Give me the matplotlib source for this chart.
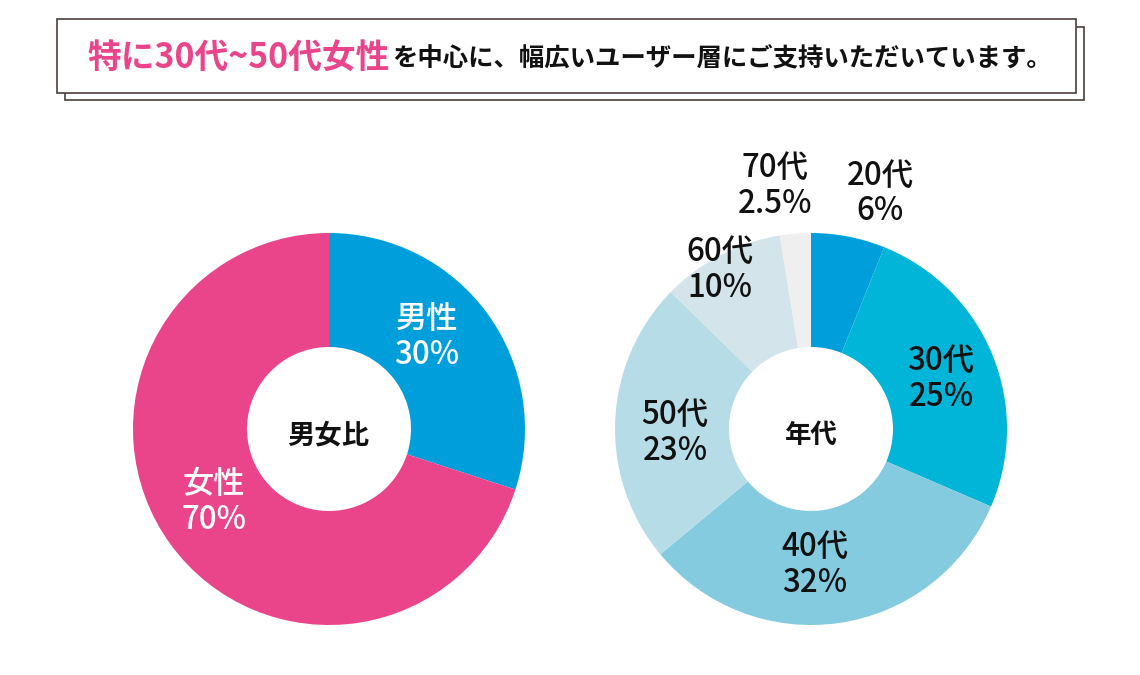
import matplotlib
matplotlib.use("Agg")
import matplotlib.pyplot as plt
from matplotlib.patches import Rectangle

plt.rcParams['font.family'] = ['Noto Sans CJK JP', 'DejaVu Sans']

gender_labels = ['男性\n30%', '女性\n70%']
gender_values = [30, 70]
gender_colors = ['#009FDB', '#EA458A']
age_labels = ['20代\n6%', '30代\n25%', '40代\n32%', '50代\n23%', '60代\n10%', '70代\n2.5%']
age_values = [6, 25, 32, 23, 10, 2.5]
age_colors = ['#009FDB', '#00B5D8', '#84CBDF', '#B6DDE7', '#D3E4EB', '#EFEFEF']
title_pink = '特に30代~50代女性'
title_black = 'を中心に、幅広いユーザー層にご支持いただいています。'

W, H = 1140, 675
fig = plt.figure(figsize=(W/100, H/100), dpi=100, facecolor='white')
bg = fig.add_axes([0, 0, 1, 1])
bg.set_xlim(0, W); bg.set_ylim(H, 0); bg.axis('off')
bg.add_patch(Rectangle((65, 27), 1019, 73, fc='white', ec='#4A3F3A', lw=1.2, zorder=1))
bg.add_patch(Rectangle((57, 19), 1019, 74, fc='white', ec='#4A3F3A', lw=1.2, zorder=2))
bg.text(87, 57, title_pink, color='#EA458A', fontsize=24.3, fontweight='bold', va='center', ha='left', zorder=3)
bg.text(392, 58, title_black, color='#111111', fontsize=18.3, fontweight='bold', va='center', ha='left', zorder=3)

def donut(cx, values, colors, radius=196, cy=429):
    ax = fig.add_axes([(cx-radius)/W, 1-(cy+radius)/H, 2*radius/W, 2*radius/H])
    ax.pie(values, colors=colors, startangle=90, counterclock=False, radius=1,
           normalize=True, wedgeprops=dict(width=1-82/196, linewidth=0))
    ax.set_xlim(-1, 1); ax.set_ylim(-1, 1)
    ax.axis('off')

donut(329, gender_values, gender_colors)
donut(811, age_values, age_colors)

bg.set_zorder(0)
tx = fig.add_axes([0, 0, 1, 1], zorder=5)
tx.set_xlim(0, W); tx.set_ylim(H, 0); tx.axis('off')
def lab(x, y, s, c='#111111', fs=22.5):
    tx.text(x, y, s, color=c, fontsize=fs, ha='center', va='center', linespacing=1.15, fontweight='medium')

lab(427, 337, gender_labels[0], 'white')
lab(214, 502, gender_labels[1], 'white')
tx.text(328, 435, '男女比', fontsize=19.7, ha='center', va='center', fontweight='bold', color='#111111')
tx.text(811, 435, '年代', fontsize=19, ha='center', va='center', fontweight='bold', color='#111111')
for (x, y), s in zip([(880, 193.5), (941, 379), (815, 565), (675, 433), (720, 270), (775, 186)], age_labels):
    lab(x, y, s)

fig.savefig('out.png', dpi=100, facecolor='white')
